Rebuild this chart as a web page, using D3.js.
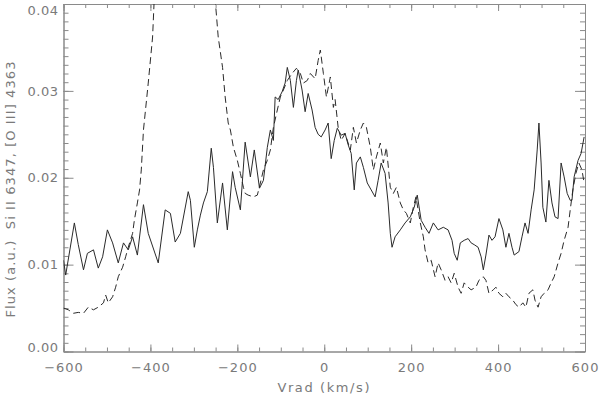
<!DOCTYPE html>
<html>
<head>
<meta charset="utf-8">
<script src="https://cdn.jsdelivr.net/npm/d3@7"></script>
<style>
	body { margin: 0; background: #fff; }
	text { font-family: 'DejaVu Sans', sans-serif; fill: #7a7a7a; }
</style>
</head>
<body>
<svg id="chart" width="600" height="395"></svg>
<script>
// Si II 6347 (solid line)
const solidVel = [-600, -595, -575, -566, -554, -545, -531, -520, -510, -499, -487, -474, -462, -451, -441, -430,
	-416, -405, -382, -366, -354, -343, -331, -313, -308, -299, -292, -285, -278, -269, -260, -255, -246, -234,
	-223, -211, -205, -193, -182, -170, -161, -149, -140, -131, -124, -117, -113, -106, -97, -90, -85, -78, -71,
	-64, -60, -51, -44, -37, -28, -21, -14, -7, 2, 9, 16, 23, 30, 39, 48, 55, 62, 69, 74, 83, 90, 99, 108, 117,
	124, 131, 140, 147, 152, 156, 163, 175, 186, 198, 207, 214, 223, 232, 241, 251, 262, 274, 285, 294, 299,
	306, 313, 322, 331, 338, 345, 354, 361, 366, 372, 379, 386, 393, 402, 411, 418, 425, 432, 437, 448, 455,
	462, 469, 476, 483, 490, 494, 499, 503, 510, 517, 524, 531, 538, 545, 552, 559, 566, 570, 575, 584, 591, 598];
const solidFlux = [0.0105, 0.0088, 0.0148, 0.0123, 0.0094, 0.0113, 0.0117, 0.0096, 0.0109, 0.0140, 0.0125, 0.0102,
	0.0125, 0.0117, 0.0132, 0.0111, 0.0169, 0.0136, 0.0102, 0.0163, 0.0159, 0.0126, 0.0136, 0.0184, 0.0174,
	0.0120, 0.0140, 0.0157, 0.0171, 0.0184, 0.0234, 0.0212, 0.0148, 0.0194, 0.0140, 0.0207, 0.0189, 0.0163,
	0.0241, 0.0201, 0.0232, 0.0188, 0.0197, 0.0235, 0.0255, 0.0243, 0.0293, 0.0290, 0.0299, 0.0309, 0.0327,
	0.0312, 0.0281, 0.0312, 0.0324, 0.0301, 0.0276, 0.0297, 0.0278, 0.0258, 0.0250, 0.0247, 0.0255, 0.0263,
	0.0222, 0.0243, 0.0257, 0.0249, 0.0251, 0.0238, 0.0228, 0.0186, 0.0217, 0.0224, 0.0212, 0.0194, 0.0186,
	0.0178, 0.0197, 0.0217, 0.0205, 0.0171, 0.0136, 0.0120, 0.0132, 0.0140, 0.0148, 0.0155, 0.0166, 0.0180,
	0.0151, 0.0143, 0.0136, 0.0148, 0.0140, 0.0143, 0.0140, 0.0128, 0.0113, 0.0105, 0.0125, 0.0128, 0.0130,
	0.0125, 0.0123, 0.0120, 0.0109, 0.0094, 0.0111, 0.0134, 0.0128, 0.0132, 0.0153, 0.0140, 0.0120, 0.0136,
	0.0120, 0.0111, 0.0115, 0.0132, 0.0148, 0.0136, 0.0163, 0.0186, 0.0232, 0.0263, 0.0217, 0.0166, 0.0149,
	0.0197, 0.0171, 0.0155, 0.0153, 0.0217, 0.0201, 0.0182, 0.0174, 0.0174, 0.0201, 0.0220, 0.0228, 0.0247];

// [O III] 4363 (dashed line), the peak runs off the top of the frame
const dashVel = [-600, -589, -577, -566, -554, -543, -531, -520, -508, -503, -497, -487, -480, -474, -464, -457,
	-451, -441, -437, -430, -425, -421, -416, -405, -395, -390, -370, -330, -290, -260, -251, -244, -234, -228,
	-221, -216, -209, -200, -193, -186, -182, -175, -163, -154, -147, -140, -131, -124, -117, -108, -101, -94,
	-85, -74, -64, -55, -48, -39, -32, -21, -14, -9, -2, 5, 14, 21, 25, 32, 39, 48, 60, 67, 74, 83, 90, 97, 106,
	113, 120, 129, 136, 143, 152, 159, 166, 175, 182, 189, 198, 205, 211, 221, 228, 232, 239, 246, 255, 262,
	269, 278, 285, 292, 299, 308, 315, 322, 331, 338, 349, 356, 366, 372, 379, 389, 395, 402, 411, 418, 425,
	434, 441, 448, 457, 464, 471, 480, 485, 492, 499, 506, 515, 522, 529, 538, 545, 552, 561, 566, 572, 579,
	586, 593, 598];
const dashFlux = [0.0050, 0.0048, 0.0044, 0.0045, 0.0044, 0.0051, 0.0048, 0.0051, 0.0056, 0.0065, 0.0056, 0.0063,
	0.0074, 0.0086, 0.0097, 0.0109, 0.0120, 0.0136, 0.0151, 0.0171, 0.0186, 0.0209, 0.0255, 0.0309, 0.0362,
	0.0420, 0.0520, 0.0580, 0.0520, 0.0430, 0.0405, 0.0362, 0.0327, 0.0293, 0.0263, 0.0255, 0.0235, 0.0220,
	0.0205, 0.0189, 0.0182, 0.0180, 0.0178, 0.0180, 0.0194, 0.0209, 0.0220, 0.0232, 0.0258, 0.0278, 0.0293,
	0.0301, 0.0312, 0.0320, 0.0326, 0.0320, 0.0309, 0.0312, 0.0320, 0.0314, 0.0335, 0.0347, 0.0320, 0.0293,
	0.0316, 0.0281, 0.0290, 0.0258, 0.0243, 0.0251, 0.0232, 0.0258, 0.0240, 0.0255, 0.0263, 0.0258, 0.0235,
	0.0209, 0.0224, 0.0240, 0.0217, 0.0235, 0.0189, 0.0182, 0.0189, 0.0171, 0.0163, 0.0159, 0.0148, 0.0166,
	0.0178, 0.0148, 0.0132, 0.0117, 0.0102, 0.0105, 0.0086, 0.0102, 0.0094, 0.0082, 0.0086, 0.0079, 0.0090,
	0.0074, 0.0067, 0.0079, 0.0074, 0.0071, 0.0074, 0.0082, 0.0086, 0.0082, 0.0067, 0.0071, 0.0074, 0.0067,
	0.0063, 0.0067, 0.0063, 0.0059, 0.0054, 0.0051, 0.0056, 0.0051, 0.0067, 0.0071, 0.0059, 0.0051, 0.0063,
	0.0067, 0.0071, 0.0079, 0.0086, 0.0102, 0.0113, 0.0128, 0.0143, 0.0163, 0.0186, 0.0205, 0.0217, 0.0209,
	0.0194];

const xMajorTicks = [-600, -400, -200, 0, 200, 400, 600];
const yMajorTicks = [0, 0.01, 0.02, 0.03, 0.04];
const xLabel = 'Vrad (km/s)';
const yLabel = 'Flux (a.u.)  Si II 6347, [O III] 4363';

const plotLeft = 63.5, plotRight = 585, plotTop = 4, plotBottom = 351.5,
	axisColor = '#8a8a8a',
	lineColor = '#2a2a2a';

const x = d3.scaleLinear().domain([-600, 600]).range([plotLeft, plotRight]),
	y = d3.scaleLinear().domain([0, 0.04]).range([plotBottom, plotTop]),
	xMinorTicks = d3.range(-600, 601, 50),
	yMinorTicks = d3.range(0, 41).map(i => i / 1000);

const svg = d3.select('#chart');

svg.append('defs').append('clipPath')
	.attr('id', 'plot-clip')
	.append('rect')
	.attr('x', plotLeft)
	.attr('y', plotTop)
	.attr('width', plotRight - plotLeft)
	.attr('height', plotBottom - plotTop);

// frame with ticks on all four sides, IDL style
const drawAxis = (axis, transform, ticks, size, labels) => {
	const g = svg.append('g')
		.attr('transform', transform)
		.call(axis.tickValues(ticks).tickSize(-size).tickSizeOuter(0));
	g.selectAll('path, line').attr('stroke', axisColor).attr('stroke-width', 1);
	if (!labels) g.selectAll('text').remove();
	return g;
};

const styleLabels = sel => sel
	.style('font-size', '13px')
	.style('letter-spacing', '1px')
	.style('fill', '#7a7a7a');

const xAxisMajor = d3.axisBottom(x).tickPadding(11).tickFormat(d3.format('d')),
	yAxisMajor = d3.axisLeft(y).tickPadding(5).tickFormat(d3.format('.2f'));

drawAxis(d3.axisBottom(x), `translate(0,${plotBottom})`, xMinorTicks, 4, false);
drawAxis(xAxisMajor, `translate(0,${plotBottom})`, xMajorTicks, 7, true)
	.selectAll('text')
	.call(styleLabels);
drawAxis(d3.axisTop(x), `translate(0,${plotTop})`, xMinorTicks, 4, false);
drawAxis(d3.axisTop(x), `translate(0,${plotTop})`, xMajorTicks, 7, false);

drawAxis(d3.axisLeft(y), `translate(${plotLeft},0)`, yMinorTicks, 5, false);
drawAxis(yAxisMajor, `translate(${plotLeft},0)`, yMajorTicks, 10, true)
	.selectAll('text')
	.call(styleLabels)
	.style('letter-spacing', '0.5px')
	.attr('y', d => Math.min(Math.max(y(d), 10), 347) - y(d));
drawAxis(d3.axisRight(y), `translate(${plotRight},0)`, yMinorTicks, 5, false);
drawAxis(d3.axisRight(y), `translate(${plotRight},0)`, yMajorTicks, 10, false);

svg.append('text')
	.attr('x', (plotLeft + plotRight) / 2)
	.attr('y', 392)
	.attr('text-anchor', 'middle')
	.style('font-size', '13px')
	.style('letter-spacing', '1.6px')
	.text(xLabel);

svg.append('text')
	.attr('transform', 'translate(15,189) rotate(-90)')
	.attr('text-anchor', 'middle')
	.style('font-size', '13px')
	.style('letter-spacing', '1.1px')
	.style('white-space', 'pre')
	.text(yLabel);

const line = d3.line()
	.x(d => x(d[0]))
	.y(d => y(d[1]));

const plot = svg.append('g').attr('clip-path', 'url(#plot-clip)');

plot.append('path')
	.datum(d3.zip(dashVel, dashFlux))
	.attr('d', line)
	.attr('fill', 'none')
	.attr('stroke', lineColor)
	.attr('stroke-width', 1)
	.attr('stroke-dasharray', '7,4');

plot.append('path')
	.datum(d3.zip(solidVel, solidFlux))
	.attr('d', line)
	.attr('fill', 'none')
	.attr('stroke', lineColor)
	.attr('stroke-width', 1);
</script>
</body>
</html>
